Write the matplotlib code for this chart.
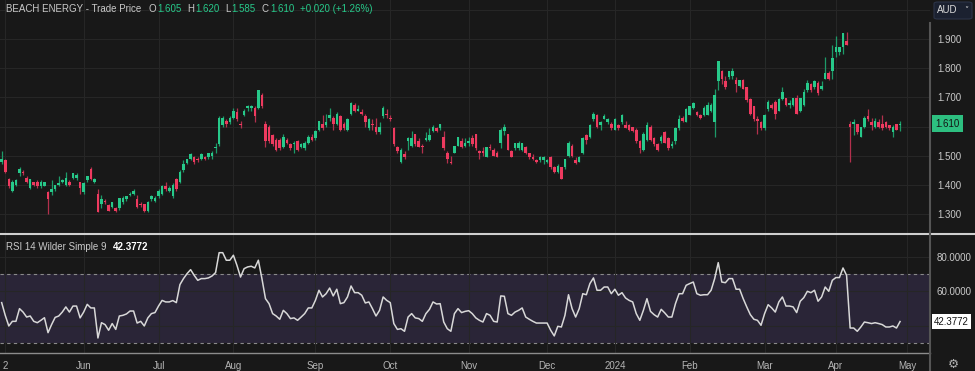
import matplotlib
matplotlib.use("Agg")
import matplotlib.pyplot as plt
import matplotlib.transforms as mtransforms
from matplotlib.lines import Line2D
from matplotlib.patches import FancyBboxPatch
import numpy as np
import pandas as pd

plt.rcParams['font.family'] = ['Liberation Sans', 'DejaVu Sans']

# BPT daily candles, 1 May 2023 - 29 Apr 2024
opens = [
    1.48, 1.485, 1.42, 1.38, 1.40, 1.44, 1.445, 1.425, 1.39, 1.41,
    1.41, 1.395, 1.395, 1.375, 1.375, 1.385, 1.40, 1.41, 1.40, 1.41,
    1.425, 1.425, 1.41, 1.375, 1.415, 1.455, 1.41, 1.37, 1.335, 1.345,
    1.33, 1.325, 1.32, 1.32, 1.34, 1.35, 1.365, 1.37, 1.35, 1.335,
    1.335, 1.31, 1.35, 1.345, 1.36, 1.37, 1.395, 1.38, 1.36, 1.42,
    1.41, 1.45, 1.475, 1.49, 1.495, 1.49, 1.49, 1.495, 1.495, 1.50,
    1.525, 1.54, 1.605, 1.62, 1.615, 1.63, 1.65, 1.61, 1.64, 1.665,
    1.665, 1.665, 1.665, 1.71, 1.61, 1.60, 1.57, 1.555, 1.555, 1.53,
    1.555, 1.54, 1.54, 1.55, 1.53, 1.525, 1.545, 1.565, 1.56, 1.59,
    1.61, 1.605, 1.63, 1.63, 1.61, 1.635, 1.61, 1.59, 1.645, 1.675,
    1.655, 1.65, 1.635, 1.595, 1.61, 1.60, 1.58, 1.635, 1.645, 1.63,
    1.595, 1.53, 1.48, 1.505, 1.55, 1.535, 1.575, 1.55, 1.535, 1.555,
    1.555, 1.585, 1.595, 1.595, 1.565, 1.51, 1.48, 1.51, 1.535, 1.55,
    1.535, 1.545, 1.56, 1.575, 1.515, 1.515, 1.495, 1.53, 1.52, 1.51,
    1.545, 1.585, 1.575, 1.515, 1.525, 1.525, 1.52, 1.53, 1.51, 1.495,
    1.485, 1.485, 1.485, 1.48, 1.495, 1.46, 1.445, 1.46, 1.46, 1.50,
    1.535, 1.485, 1.48, 1.51, 1.57, 1.565, 1.625, 1.64, 1.605, 1.625,
    1.615, 1.61, 1.59, 1.605, 1.615, 1.605, 1.605, 1.60, 1.59, 1.55,
    1.52, 1.555, 1.60, 1.56, 1.54, 1.55, 1.58, 1.56, 1.535, 1.55,
    1.595, 1.63, 1.615, 1.64, 1.665, 1.65, 1.64, 1.64, 1.64, 1.655,
    1.615, 1.755, 1.79, 1.755, 1.77, 1.775, 1.76, 1.74, 1.76, 1.735,
    1.695, 1.67, 1.625, 1.615, 1.595, 1.66, 1.675, 1.685, 1.655, 1.695,
    1.70, 1.675, 1.675, 1.70, 1.655, 1.675, 1.725, 1.745, 1.735, 1.75,
    1.73, 1.765, 1.785, 1.79, 1.855, 1.855, 1.875, 1.895, 1.61, 1.61,
    1.61, 1.565, 1.60, 1.635, 1.615, 1.60, 1.615, 1.61, 1.615, 1.605,
    1.58, 1.61, 1.605]
highs = [
    1.515, 1.49, 1.425, 1.415, 1.42, 1.46, 1.45, 1.43, 1.42, 1.41,
    1.415, 1.415, 1.41, 1.38, 1.415, 1.40, 1.43, 1.42, 1.445, 1.415,
    1.44, 1.44, 1.41, 1.41, 1.43, 1.46, 1.425, 1.385, 1.365, 1.35,
    1.335, 1.34, 1.325, 1.355, 1.36, 1.36, 1.375, 1.385, 1.365, 1.34,
    1.335, 1.345, 1.365, 1.36, 1.385, 1.40, 1.41, 1.395, 1.405, 1.425,
    1.45, 1.485, 1.49, 1.51, 1.50, 1.495, 1.51, 1.50, 1.51, 1.515,
    1.545, 1.635, 1.635, 1.625, 1.635, 1.665, 1.665, 1.62, 1.66, 1.675,
    1.675, 1.67, 1.725, 1.715, 1.62, 1.605, 1.575, 1.56, 1.56, 1.575,
    1.56, 1.545, 1.55, 1.555, 1.545, 1.55, 1.57, 1.575, 1.59, 1.62,
    1.64, 1.645, 1.665, 1.635, 1.65, 1.64, 1.615, 1.63, 1.685, 1.68,
    1.675, 1.66, 1.645, 1.63, 1.625, 1.63, 1.615, 1.67, 1.66, 1.64,
    1.60, 1.535, 1.525, 1.515, 1.565, 1.585, 1.575, 1.56, 1.54, 1.58,
    1.595, 1.605, 1.60, 1.61, 1.585, 1.515, 1.50, 1.535, 1.565, 1.56,
    1.56, 1.565, 1.57, 1.575, 1.52, 1.53, 1.53, 1.54, 1.525, 1.515,
    1.595, 1.61, 1.575, 1.52, 1.545, 1.55, 1.545, 1.535, 1.51, 1.505,
    1.49, 1.50, 1.50, 1.49, 1.50, 1.465, 1.47, 1.46, 1.49, 1.55,
    1.54, 1.495, 1.50, 1.565, 1.575, 1.61, 1.65, 1.645, 1.62, 1.645,
    1.63, 1.615, 1.63, 1.61, 1.645, 1.62, 1.61, 1.60, 1.595, 1.555,
    1.58, 1.615, 1.605, 1.565, 1.545, 1.57, 1.585, 1.565, 1.55, 1.60,
    1.64, 1.635, 1.665, 1.67, 1.685, 1.655, 1.645, 1.67, 1.685, 1.68,
    1.73, 1.825, 1.795, 1.775, 1.79, 1.80, 1.77, 1.76, 1.765, 1.735,
    1.70, 1.67, 1.635, 1.62, 1.645, 1.69, 1.68, 1.69, 1.70, 1.735,
    1.70, 1.69, 1.70, 1.71, 1.70, 1.73, 1.76, 1.75, 1.76, 1.755,
    1.755, 1.84, 1.79, 1.88, 1.91, 1.875, 1.92, 1.925, 1.62, 1.625,
    1.61, 1.60, 1.635, 1.66, 1.63, 1.63, 1.625, 1.64, 1.62, 1.605,
    1.605, 1.61, 1.62]
lows = [
    1.47, 1.44, 1.39, 1.375, 1.395, 1.43, 1.435, 1.405, 1.385, 1.395,
    1.39, 1.39, 1.395, 1.30, 1.365, 1.38, 1.395, 1.405, 1.395, 1.395,
    1.42, 1.415, 1.37, 1.37, 1.41, 1.415, 1.405, 1.305, 1.32, 1.335,
    1.31, 1.32, 1.305, 1.315, 1.335, 1.345, 1.36, 1.365, 1.32, 1.325,
    1.305, 1.305, 1.345, 1.34, 1.355, 1.365, 1.38, 1.375, 1.355, 1.38,
    1.405, 1.445, 1.47, 1.485, 1.47, 1.48, 1.485, 1.485, 1.49, 1.49,
    1.51, 1.535, 1.60, 1.60, 1.61, 1.625, 1.62, 1.595, 1.635, 1.655,
    1.655, 1.615, 1.66, 1.665, 1.53, 1.545, 1.535, 1.515, 1.52, 1.525,
    1.54, 1.52, 1.51, 1.515, 1.525, 1.52, 1.54, 1.55, 1.555, 1.585,
    1.59, 1.60, 1.62, 1.59, 1.605, 1.585, 1.59, 1.585, 1.64, 1.65,
    1.655, 1.64, 1.60, 1.59, 1.59, 1.575, 1.575, 1.63, 1.63, 1.62,
    1.535, 1.51, 1.475, 1.49, 1.52, 1.53, 1.535, 1.53, 1.51, 1.55,
    1.55, 1.58, 1.58, 1.59, 1.52, 1.475, 1.47, 1.51, 1.535, 1.525,
    1.53, 1.535, 1.535, 1.52, 1.49, 1.50, 1.495, 1.52, 1.50, 1.495,
    1.525, 1.57, 1.52, 1.495, 1.52, 1.52, 1.515, 1.505, 1.49, 1.485,
    1.475, 1.48, 1.47, 1.475, 1.455, 1.44, 1.44, 1.42, 1.455, 1.495,
    1.495, 1.47, 1.48, 1.505, 1.54, 1.56, 1.62, 1.595, 1.59, 1.625,
    1.61, 1.59, 1.59, 1.59, 1.61, 1.595, 1.585, 1.58, 1.545, 1.51,
    1.515, 1.55, 1.55, 1.535, 1.515, 1.545, 1.545, 1.52, 1.525, 1.54,
    1.59, 1.615, 1.615, 1.64, 1.66, 1.635, 1.625, 1.635, 1.64, 1.65,
    1.565, 1.725, 1.745, 1.73, 1.765, 1.765, 1.72, 1.735, 1.73, 1.685,
    1.64, 1.62, 1.575, 1.59, 1.59, 1.655, 1.66, 1.625, 1.655, 1.69,
    1.67, 1.665, 1.67, 1.645, 1.65, 1.67, 1.72, 1.72, 1.73, 1.71,
    1.725, 1.765, 1.76, 1.765, 1.84, 1.845, 1.85, 1.88, 1.48, 1.57,
    1.575, 1.565, 1.595, 1.62, 1.59, 1.595, 1.595, 1.59, 1.595, 1.59,
    1.565, 1.59, 1.585]
closes = [
    1.49, 1.445, 1.395, 1.41, 1.415, 1.455, 1.44, 1.41, 1.42, 1.40,
    1.395, 1.41, 1.41, 1.35, 1.385, 1.40, 1.405, 1.415, 1.425, 1.40,
    1.44, 1.435, 1.39, 1.405, 1.43, 1.42, 1.42, 1.305, 1.35, 1.34,
    1.31, 1.34, 1.31, 1.355, 1.355, 1.36, 1.37, 1.38, 1.325, 1.33,
    1.31, 1.34, 1.36, 1.355, 1.38, 1.395, 1.385, 1.39, 1.40, 1.385,
    1.445, 1.47, 1.49, 1.505, 1.48, 1.485, 1.505, 1.49, 1.51, 1.51,
    1.53, 1.63, 1.63, 1.61, 1.63, 1.655, 1.625, 1.605, 1.655, 1.67,
    1.67, 1.635, 1.725, 1.67, 1.55, 1.55, 1.54, 1.52, 1.525, 1.565,
    1.545, 1.525, 1.545, 1.52, 1.54, 1.545, 1.565, 1.555, 1.585, 1.62,
    1.595, 1.615, 1.64, 1.61, 1.645, 1.59, 1.595, 1.625, 1.68, 1.655,
    1.66, 1.645, 1.615, 1.625, 1.605, 1.58, 1.60, 1.665, 1.64, 1.625,
    1.54, 1.515, 1.52, 1.495, 1.56, 1.56, 1.54, 1.53, 1.53, 1.56,
    1.57, 1.60, 1.585, 1.61, 1.525, 1.49, 1.475, 1.535, 1.565, 1.53,
    1.545, 1.55, 1.54, 1.525, 1.51, 1.51, 1.53, 1.525, 1.50, 1.495,
    1.59, 1.60, 1.52, 1.495, 1.545, 1.545, 1.545, 1.51, 1.495, 1.49,
    1.48, 1.495, 1.495, 1.485, 1.46, 1.445, 1.465, 1.42, 1.49, 1.545,
    1.50, 1.475, 1.495, 1.56, 1.555, 1.605, 1.645, 1.60, 1.615, 1.635,
    1.625, 1.595, 1.625, 1.595, 1.64, 1.595, 1.59, 1.585, 1.55, 1.525,
    1.575, 1.605, 1.555, 1.54, 1.52, 1.565, 1.545, 1.525, 1.54, 1.595,
    1.625, 1.62, 1.66, 1.67, 1.68, 1.64, 1.63, 1.665, 1.675, 1.675,
    1.71, 1.825, 1.765, 1.735, 1.79, 1.79, 1.745, 1.76, 1.73, 1.69,
    1.645, 1.625, 1.62, 1.595, 1.64, 1.685, 1.665, 1.645, 1.695, 1.72,
    1.675, 1.68, 1.70, 1.645, 1.70, 1.72, 1.75, 1.725, 1.755, 1.715,
    1.74, 1.785, 1.765, 1.835, 1.875, 1.875, 1.92, 1.88, 1.60, 1.615,
    1.58, 1.60, 1.63, 1.625, 1.605, 1.62, 1.60, 1.595, 1.60, 1.595,
    1.60, 1.59, 1.61]

# RSI 14 (Wilder) as drawn in the lower pane
rsi = [
    53.4, 46.0, 39.8, 42.5, 42.5, 49.9, 47.9, 45.0, 45.6, 42.5,
    41.7, 43.1, 44.6, 35.9, 40.6, 44.8, 45.6, 47.9, 50.9, 47.9,
    51.4, 51.4, 44.5, 47.9, 52.4, 50.3, 50.3, 32.8, 41.7, 40.6,
    37.3, 41.2, 37.8, 45.6, 46.0, 46.8, 48.5, 48.5, 41.5, 42.5,
    39.8, 44.5, 47.0, 47.6, 51.4, 54.7, 53.8, 53.8, 54.6, 53.4,
    63.9, 67.4, 70.3, 72.6, 69.3, 66.4, 67.4, 67.4, 67.8, 68.9,
    70.9, 82.5, 82.5, 78.1, 78.1, 81.0, 75.1, 68.3, 73.2, 74.2,
    74.6, 73.6, 78.1, 67.4, 55.7, 52.8, 47.0, 45.6, 43.7, 48.9,
    47.0, 44.1, 44.5, 43.1, 45.0, 47.0, 50.3, 50.3, 54.7, 60.6,
    56.7, 58.6, 61.9, 57.3, 61.2, 52.8, 53.4, 56.7, 63.1, 59.2,
    59.2, 57.7, 53.2, 53.8, 49.9, 45.6, 48.9, 56.7, 54.7, 53.4,
    41.2, 37.8, 38.2, 36.7, 45.0, 47.0, 44.5, 44.1, 42.5, 47.0,
    49.5, 53.8, 52.6, 52.8, 42.1, 38.2, 36.7, 47.0, 49.9, 47.6,
    48.3, 48.7, 47.0, 44.5, 43.1, 42.1, 47.0, 46.0, 42.5, 42.1,
    57.3, 57.1, 47.0, 46.0, 47.9, 48.9, 50.3, 45.0, 43.7, 42.5,
    41.5, 41.5, 41.5, 41.5, 37.3, 34.0, 39.6, 39.2, 46.0, 58.0,
    49.9, 45.0, 49.9, 58.6, 58.0, 64.5, 67.8, 60.6, 60.6, 62.5,
    62.5, 58.6, 61.2, 57.7, 59.2, 56.1, 54.7, 53.8, 47.0, 43.1,
    48.9, 55.7, 48.3, 46.4, 45.0, 49.5, 47.4, 45.0, 45.0, 52.8,
    58.6, 58.6, 63.5, 64.5, 65.4, 58.6, 57.7, 58.0, 58.0, 60.6,
    67.4, 76.7, 65.4, 65.0, 67.4, 67.4, 61.2, 61.2, 55.7, 50.9,
    46.4, 43.7, 43.1, 40.2, 47.0, 52.2, 50.3, 47.9, 53.8, 56.7,
    51.4, 51.4, 50.9, 47.6, 54.2, 56.3, 60.0, 59.2, 60.6, 54.2,
    56.7, 62.5, 60.0, 66.4, 68.0, 68.0, 73.6, 69.3, 38.6, 38.6,
    36.7, 39.2, 42.1, 41.7, 41.2, 41.7, 41.2, 40.6, 39.2, 39.2,
    39.8, 38.6, 42.3772]

asx_holidays = ['2023-06-12', '2023-12-25', '2023-12-26', '2024-01-01',
                '2024-01-26', '2024-03-29', '2024-04-01', '2024-04-25']
month_labels = ['Jun', 'Jul', 'Aug', 'Sep', 'Oct', 'Nov', 'Dec', '2024',
                'Feb', 'Mar', 'Apr', 'May']

days = pd.bdate_range('2023-05-01', '2024-05-01', freq='C', holidays=asx_holidays)
tick_pos = [1] + [int(days.searchsorted(m)) for m in
                  pd.date_range('2023-06-01', '2024-05-01', freq='MS')]
tick_lab = [str(days[1].day)] + month_labels

BG = '#181818'
GRID = '#262626'
UP = '#27c98a'
DOWN = '#ee3a5f'
TXT = '#c9c9c9'
FS = 7

W, H = 975, 371
def box(x0, y0, x1, y1):
    return [x0 / W, 1 - y1 / H, (x1 - x0) / W, (y1 - y0) / H]
def fy(y):
    return 1 - y / H

fig = plt.figure(figsize=(W / 100, H / 100), dpi=100, facecolor=BG)
ax = fig.add_axes(box(0, 0, 930, 234))
ax2 = fig.add_axes(box(0, 235, 930, 353), sharex=ax)

o = np.array(opens); h = np.array(highs); l = np.array(lows); c = np.array(closes)
x = np.arange(len(c))
up = c >= o
ax.vlines(x, l, h, colors=np.where(up, '#1d9a68', '#b3304d'), lw=0.9, zorder=2)
ax.bar(x, np.maximum(np.abs(c - o), 0.0025), bottom=np.minimum(o, c), width=0.72,
       color=np.where(up, UP, DOWN), linewidth=0, zorder=3)

for a in (ax, ax2):
    a.set_facecolor(BG)
    for s in a.spines.values():
        s.set_visible(False)
    a.set_xticks(tick_pos)
    a.grid(axis='both', color=GRID, lw=0.8, zorder=0)
    a.yaxis.tick_right()
    a.tick_params(axis='both', length=0, labelsize=FS, labelcolor=TXT)
    a.tick_params(axis='y', pad=5)

ax.set_xlim(-0.47, 260.4)
ax.set_ylim(1.231, 2.035)
pticks = np.arange(1.3, 2.01, 0.1)
ax.set_yticks(pticks)
# 1.600 sits under the last-price tag and 2.000 under the currency box
ax.set_yticklabels(['' if round(v, 1) in (1.6, 2.0) else f'{v:.3f}' for v in pticks])
ax.tick_params(axis='x', labelbottom=False)

# RSI pane
ax2.set_ylim(24.05, 92.8)
ax2.axhspan(30, 70, color='#2a2537', zorder=0.5, lw=0)
for lvl in (30, 70):
    ax2.axhline(lvl, color='#8a8a8a', lw=0.8, ls=(0, (3, 3)), zorder=1)
ax2.plot(x, rsi, color='#d8d8d8', lw=1.1, zorder=3)
ax2.set_yticks([40, 60, 80])
ax2.set_yticklabels(['', '60.0000', '80.0000'])
ax2.set_xticklabels(tick_lab)
ax2.tick_params(axis='x', pad=6, labelcolor='#b5b5b5')

# last value tags on the axes
tr = mtransforms.blended_transform_factory(ax.transAxes, ax.transData)
ax.text(1 + 5 / 930, closes[-1], f'{closes[-1]:.3f}', transform=tr, va='center', ha='left',
        fontsize=FS, color='#141414', clip_on=False, zorder=10,
        bbox=dict(boxstyle='square,pad=0.35', fc='#2dbf80', ec='none'))
tr2 = mtransforms.blended_transform_factory(ax2.transAxes, ax2.transData)
ax2.text(1 + 4 / 930, rsi[-1], f'{rsi[-1]:.4f}', transform=tr2, va='center', ha='left',
         fontsize=FS, color='#141414', clip_on=False, zorder=10,
         bbox=dict(boxstyle='square,pad=0.25', fc='white', ec='none'))

# header line, pieces placed one after another
fig.canvas.draw()
rend = fig.canvas.get_renderer()
def chain(x0, y, pieces):
    xp = x0
    for s, col, gap, kw in pieces:
        t = fig.text(xp / W, fy(y), s, color=col, fontsize=FS, va='center', **kw)
        xp = t.get_window_extent(renderer=rend).x1 + gap
    return xp

chg = closes[-1] - closes[-2]
hdr = [('BEACH ENERGY - Trade Price', TXT, 7, {})]
for lab, val in [('O', opens[-1]), ('H', highs[-1]), ('L', lows[-1]), ('C', closes[-1])]:
    hdr.append((lab, TXT, 1, {}))
    hdr.append((f'{val:.3f}', UP, 6, {}))
hdr.append((f'{chg:+.3f} ({chg / closes[-2] * 100:+.2f}%)', UP, 0, {}))
chain(6, 9, hdr)

chain(6, 247, [('RSI 14 Wilder Simple 9', TXT, 6, {}),
               (f'{rsi[-1]:.4f}', 'white', 0, {'fontweight': 'bold'})])

# currency box
fig.add_artist(FancyBboxPatch((934 / W, fy(19)), 38 / W, 17 / H,
                              boxstyle='round,pad=0,rounding_size=0.004',
                              transform=fig.transFigure, fc='#1b2130', ec='#2c3448', lw=0.8))
fig.text(937 / W, fy(10), 'AUD', color='#d8d8d8', fontsize=FS, va='center')
fig.text(964 / W, fy(10.5), '˅', color='#d8d8d8', fontsize=6, va='center', family='DejaVu Sans')

# frame lines
fig.add_artist(Line2D([0, 1], [fy(234), fy(234)], transform=fig.transFigure, color='#cfcfcf', lw=1.5))
fig.add_artist(Line2D([0, 930 / W], [fy(353), fy(353)], transform=fig.transFigure, color='#8c8c8c', lw=1))
fig.add_artist(Line2D([930 / W, 930 / W], [0, fy(23)], transform=fig.transFigure, color='#555555', lw=1.5))
fig.text(953 / W, fy(364), '⚙', color='#b0b0b0', fontsize=9, ha='center', va='center',
         family='DejaVu Sans')

fig.savefig('out.png', dpi=100, facecolor=BG)
